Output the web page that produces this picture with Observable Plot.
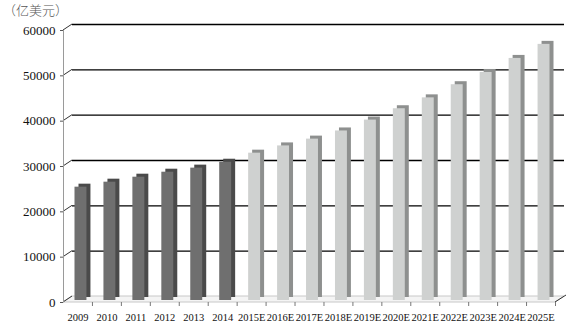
<!DOCTYPE html>
<html><head><meta charset="utf-8">
<script src="https://cdn.jsdelivr.net/npm/d3@7"></script>
<script src="https://cdn.jsdelivr.net/npm/@observablehq/plot@0.6"></script>
<style>
body{margin:0;background:#fff}
#wrap{position:relative;width:566px;height:323px;overflow:hidden}
#unit{position:absolute;left:3px;top:0px;font:300 13px "Noto Sans CJK SC";color:#555;letter-spacing:0px}
</style>
</head><body>
<div id="wrap"><div id="unit">（亿美元）</div></div>
<script>
const years = ["2009","2010","2011","2012","2013","2014","2015E","2016E","2017E","2018E","2019E","2020E","2021E","2022E","2023E","2024E","2025E"];
const values = [25000,26100,27200,28300,29200,30500,32500,34100,35600,37400,39800,42300,44700,47600,50300,53400,56500];
const kinds = ["actual","actual","actual","actual","actual","actual","forecast","forecast","forecast","forecast","forecast","forecast","forecast","forecast","forecast","forecast","forecast"];
const yTicks = [0,10000,20000,30000,40000,50000,60000];

const data = years.map((year, i) => ({i, year, value: values[i], kind: kinds[i]}));
const frontFill = {actual: "#6f6f6f", forecast: "#cfd1d0"};
const sideFill = {actual: "#4a4a4a", forecast: "#8e908f"};
const DX = 9, DY = -6;

// 3D decoration: diagonal connectors from front axis to back wall, floor
function depthDecor(index, scales, values, dim) {
  const ns = "http://www.w3.org/2000/svg";
  const g = document.createElementNS(ns, "g");
  const x0 = scales.x(-0.5), x1 = scales.x(16.5);
  const line = (a, b, c, d, stroke, w) => {
    const l = document.createElementNS(ns, "line");
    l.setAttribute("x1", a); l.setAttribute("y1", b);
    l.setAttribute("x2", c); l.setAttribute("y2", d);
    l.setAttribute("stroke", stroke); l.setAttribute("stroke-width", w);
    g.appendChild(l);
  };
  // floor
  const y0 = scales.y(0);
  const poly = document.createElementNS(ns, "polygon");
  poly.setAttribute("points", `${x0},${y0} ${x1},${y0} ${x1 + DX},${y0 + DY} ${x0 + DX},${y0 + DY}`);
  poly.setAttribute("fill", "#f4f4f4");
  poly.setAttribute("stroke", "#c8c8c8");
  poly.setAttribute("stroke-width", 1);
  g.appendChild(poly);
  line(x1, y0, x1 + DX + 2, y0 + DY - 1, "#333", 1);
  for (const t of yTicks) {
    const yy = scales.y(t);
    line(x0, yy, x0 + DX, yy + DY, "#333", 1);
  }
  return g;
}

const plot = Plot.plot({
  width: 566,
  height: 323,
  marginLeft: 63,
  marginRight: 11,
  marginTop: 30,
  marginBottom: 21,
  style: {fontFamily: "'Liberation Serif', 'DejaVu Serif', serif", fontSize: "13px", color: "#111", background: "transparent"},
  x: {type: "linear", domain: [-0.5, 16.5]},
  y: {domain: [0, 60000]},
  marks: [
    depthDecor,
    Plot.ruleY(yTicks.filter(d => d > 0), {dx: DX, dy: DY, stroke: "#000", strokeWidth: 1.4}),
    Plot.ruleX([-0.5], {y1: 0, y2: 60000, stroke: "#9a9a9a", strokeWidth: 1}),
    // side / top faces
    Plot.rectY(data, {x1: d => d.i - 0.5, x2: d => d.i + 0.5, y1: 0, y2: "value", insetLeft: 8.5, insetRight: 8.5, dx: 7, dy: -5, fill: d => sideFill[d.kind]}),
    // front faces
    Plot.rectY(data, {x1: d => d.i - 0.5, x2: d => d.i + 0.5, y1: 0, y2: "value", insetLeft: 8.5, insetRight: 8.5, dx: 3, dy: -2, fill: d => frontFill[d.kind]}),
    Plot.axisY(yTicks, {tickFormat: d => String(d), tickSize: 3, tickPadding: 5, fontSize: 13, label: null, stroke: "#555"}),
    Plot.axisX(d3.range(17), {tickSize: 0, tickPadding: 11, tickFormat: i => years[i], fontSize: 10.5, label: null}),
    Plot.axisX(d3.range(17).map(i => i + 0.5), {tickSize: 4, tickFormat: () => "", label: null, stroke: "#777"})
  ]
});
document.getElementById("wrap").prepend(plot);
</script>
</body></html>
